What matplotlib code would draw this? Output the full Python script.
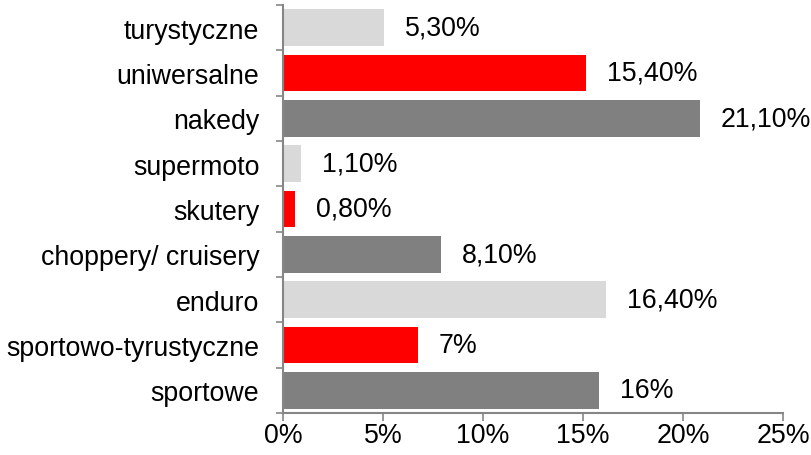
import matplotlib.pyplot as plt

# categories from top to bottom
categories = ['turystyczne', 'uniwersalne', 'nakedy', 'supermoto', 'skutery',
              'choppery/ cruisery', 'enduro', 'sportowo-tyrustyczne', 'sportowe']
# bar lengths (percent)
values = [5.05, 15.15, 20.85, 0.9, 0.6, 7.9, 16.15, 6.75, 15.8]
# printed data labels
labels = ['5,30%', '15,40%', '21,10%', '1,10%', '0,80%', '8,10%', '16,40%', '7%', '16%']
colors = ['#D9D9D9', '#FF0000', '#808080'] * 3

xticks = [0, 5, 10, 15, 20, 25]
xticklabels = ['0%', '5%', '10%', '15%', '20%', '25%']

plt.rcParams['font.family'] = ['Liberation Sans', 'DejaVu Sans']
fs = 19.3

fig = plt.figure(figsize=(8.11, 4.56), dpi=100)
ax = fig.add_axes([283 / 811, 1 - 414 / 456, 500 / 811, 408 / 456])

y = list(range(len(categories)))
ax.barh(y, values, height=0.81, color=colors, edgecolor='none')

for yi, v, lab in zip(y, values, labels):
    ax.annotate(lab, (v, yi), xytext=(15, 0), textcoords='offset points',
                ha='left', va='center', fontsize=fs)

ax.set_xlim(0, 25)
ax.set_ylim(len(categories) - 0.5, -0.5)
ax.set_xticks(xticks)
ax.set_xticklabels(xticklabels, fontsize=fs)
ax.set_yticks(y)
ax.set_yticklabels(categories, fontsize=fs)

# tick marks between categories on the y axis
ax.set_yticks([i - 0.5 for i in range(len(categories) + 1)], minor=True)
ax.tick_params(axis='y', which='major', length=0, pad=17)
ax.tick_params(axis='y', which='minor', length=5, width=1.2, color='#868686')
ax.tick_params(axis='x', length=5.5, width=1.2, color='#868686', pad=1)

for s in ['top', 'right']:
    ax.spines[s].set_visible(False)
for s in ['left', 'bottom']:
    ax.spines[s].set_color('#868686')
    ax.spines[s].set_linewidth(1.5)

fig.savefig('out.png', dpi=100)
